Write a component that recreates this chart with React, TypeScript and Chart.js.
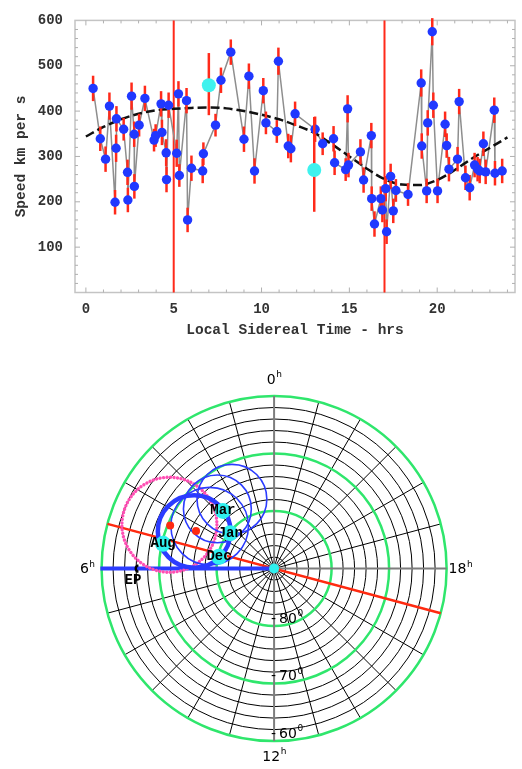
import React, { useEffect, useRef } from "react";
import { Chart, registerables } from "chart.js";
Chart.register(...registerables);

// ---------- top chart data ----------
const pointHours = [0.41,0.82,1.12,1.34,1.66,1.72,1.74,2.15,2.37,2.39,2.60,2.75,2.76,3.03,3.36,3.88,3.97,4.28,4.33,4.57,4.59,4.71,5.17,5.27,5.32,5.73,5.79,6.01,6.65,6.69,7.38,7.69,8.25,9.00,9.28,9.60,10.10,10.25,10.87,10.96,11.52,11.67,11.91,13.05,13.48,14.10,14.16,14.79,14.90,14.95,15.63,15.81,16.25,16.27,16.43,16.79,16.88,17.07,17.12,17.35,17.50,17.65,18.34,19.09,19.12,19.40,19.46,19.72,19.78,20.02,20.45,20.54,20.67,21.16,21.25,21.61,21.85,22.13,22.30,22.42,22.63,22.76,23.25,23.29,23.70];
const pointSpeeds = [450,339,294,411,199,318,383,360,265,204,433,349,234,369,428,336,346,416,353,308,249,413,307,438,258,423,160,274,268,306,369,468,530,338,477,268,445,374,355,510,323,317,394,360,328,339,286,271,405,281,310,248,346,207,151,207,182,229,134,256,180,225,216,462,323,224,374,575,413,224,371,324,272,294,421,253,231,281,272,268,328,266,402,263,268];
const pointErrors = [28,27,28,30,27,30,28,25,28,27,30,28,27,25,28,25,25,28,28,30,28,28,30,28,25,28,27,28,27,25,25,28,28,28,28,28,28,25,25,30,27,30,27,28,25,28,27,25,30,27,28,28,28,27,28,27,27,28,27,28,27,25,25,30,28,27,28,30,28,27,28,27,27,27,28,27,28,27,27,27,27,27,28,27,27];
const cyanHours = [7.0, 13.0];
const cyanSpeeds = [457, 270];
const cyanErrUp = [71, 117];
const cyanErrDown = [66, 92];
const fitHours = [0,1,2,3,4,5,6,7,8,9,10,11,12,13,14,15,16,17,18,19,20,21,22,23,24];
const fitSpeeds = [344,365,382,394,402,405,407,408,406,400,392,382,368,352,327,300,273,250,238,237,248,270,296,319,342];
const markerHours = [5, 17];
const xTickLabels = [0, 5, 10, 15, 20];
const yTickLabels = [100, 200, 300, 400, 500, 600];

// ---------- polar chart data (degrees from south pole, x left negative) ----------
const monthNames = ["Mar", "Jan", "Aug", "Dec"];
const monthX = [-8.9, -7.62, -19.3, -9.57];
const monthY = [10.1, 6.19, 4.33, 2.07];
const poleX = [0];
const poleY = [0];
const redDotX = [-18.07, -13.57];
const redDotY = [7.53, 6.57];
const thinOrbitX = [-7.33, -9.86, -11.2];
const thinOrbitY = [12.14, 10.45, 7.42];
const thinOrbitR = [6.07, 5.9, 6.74];
const thickOrbitX = [-13.9];
const thickOrbitY = [6.49];
const thickOrbitR = [6.32];
const pinkX = [-18.2];
const pinkY = [7.67];
const pinkR = [8.26];
const blackRings = [2, 4, 6, 8, 12, 14, 16, 18, 22, 24, 26, 28];
const greenRings = [10, 20, 30];
const ringLabels = ["80", "70", "60"];
const hourLines = [1,2,3,4,5,7,8,9,10,11,13,14,15,16,17,19,20,21,22,23];
const hourLabels = ["0", "6", "12", "18"];
const epX = -23.5;
const epY = 0;

const mono = "'Liberation Mono', 'DejaVu Sans Mono', monospace";
const sans = "'DejaVu Sans', sans-serif";

const topPlugin = {
  id: "topDeco",
  beforeDatasetsDraw(chart: any) {
    const { ctx, chartArea: a, scales } = chart;
    const x = scales.x, y = scales.y;
    ctx.save();
    ctx.strokeStyle = "#c4c4c4";
    ctx.lineWidth = 1.5;
    ctx.strokeRect(a.left, a.top, a.right - a.left, a.bottom - a.top);
    ctx.lineWidth = 1;
    ctx.strokeStyle = "#b0b0b0";
    for (let h = 0; h <= 24; h++) {
      const px = x.getPixelForValue(h);
      const len = h % 5 === 0 ? 5 : 3;
      ctx.beginPath();
      ctx.moveTo(px, a.bottom); ctx.lineTo(px, a.bottom - len);
      ctx.moveTo(px, a.top); ctx.lineTo(px, a.top + len);
      ctx.stroke();
    }
    for (let v = 20; v < 600; v += 20) {
      const py = y.getPixelForValue(v);
      const len = v % 100 === 0 ? 5 : 3;
      ctx.beginPath();
      ctx.moveTo(a.left, py); ctx.lineTo(a.left + len, py);
      ctx.moveTo(a.right, py); ctx.lineTo(a.right - len, py);
      ctx.stroke();
    }
    ctx.strokeStyle = "#ff2a1a";
    ctx.lineWidth = 2;
    markerHours.forEach((h) => {
      const px = x.getPixelForValue(h);
      ctx.beginPath(); ctx.moveTo(px, a.top); ctx.lineTo(px, a.bottom); ctx.stroke();
    });
    ctx.restore();
  },
  beforeDatasetDraw(chart: any, args: any) {
    const ds = chart.data.datasets[args.index];
    const { ctx, scales } = chart;
    const x = scales.x, y = scales.y;
    const drawBars = (hs: number[], vs: number[], up: number[], dn: number[]) => {
      ctx.save();
      ctx.strokeStyle = "#ff2a1a";
      ctx.lineWidth = 2.5;
      hs.forEach((h, i) => {
        const px = x.getPixelForValue(h);
        ctx.beginPath();
        ctx.moveTo(px, y.getPixelForValue(vs[i] + up[i]));
        ctx.lineTo(px, y.getPixelForValue(vs[i] - dn[i]));
        ctx.stroke();
      });
      ctx.restore();
    };
    if (ds.label === "speed") drawBars(pointHours, pointSpeeds, pointErrors, pointErrors);
    if (ds.label === "cyan") drawBars(cyanHours, cyanSpeeds, cyanErrUp, cyanErrDown);
  },
};

const polarPlugin = {
  id: "polarDeco",
  beforeDatasetsDraw(chart: any) {
    const { ctx, scales } = chart;
    const x = scales.x, y = scales.y;
    const cx = x.getPixelForValue(0), cy = y.getPixelForValue(0);
    const k = x.getPixelForValue(1) - cx;
    const P = (r: number, h: number) => {
      const t = (h * Math.PI) / 12;
      return [cx - r * k * Math.sin(t), cy - r * k * Math.cos(t)];
    };
    const line = (p: number[], q: number[]) => {
      ctx.beginPath(); ctx.moveTo(p[0], p[1]); ctx.lineTo(q[0], q[1]); ctx.stroke();
    };
    const circ = (ux: number, uy: number, r: number) => {
      ctx.beginPath();
      ctx.arc(x.getPixelForValue(ux), y.getPixelForValue(uy), r * k, 0, Math.PI * 2);
      ctx.stroke();
    };
    const outer = greenRings[greenRings.length - 1];
    ctx.save();
    ctx.strokeStyle = "#000";
    ctx.lineWidth = 1;
    blackRings.forEach((r) => circ(0, 0, r));
    hourLines.forEach((h) => line([cx, cy], P(outer, h)));
    ctx.strokeStyle = "#2fe66c";
    ctx.lineWidth = 2.5;
    greenRings.forEach((r) => circ(0, 0, r));
    ctx.strokeStyle = "#7d7d7d";
    ctx.lineWidth = 2;
    line(P(outer, 0), P(outer, 12));
    line([cx, cy], P(outer, 18));
    ctx.strokeStyle = "#ff2a10";
    ctx.lineWidth = 2.5;
    line(P(outer, markerHours[0]), P(outer, markerHours[1]));
    ctx.strokeStyle = "#2b3cff";
    ctx.lineWidth = 4;
    line(P(outer + 0.2, 6), [cx, cy]);
    // pink dotted circle
    ctx.strokeStyle = "#ff4fb4";
    ctx.lineWidth = 3.4;
    ctx.lineCap = "round";
    ctx.setLineDash([0.01, 3.5]);
    pinkX.forEach((px, i) => circ(px, pinkY[i], pinkR[i]));
    ctx.setLineDash([]);
    ctx.lineCap = "butt";
    ctx.strokeStyle = "#2b3cff";
    ctx.lineWidth = 1.6;
    thinOrbitX.forEach((ox, i) => circ(ox, thinOrbitY[i], thinOrbitR[i]));
    ctx.lineWidth = 4.5;
    thickOrbitX.forEach((ox, i) => circ(ox, thickOrbitY[i], thickOrbitR[i]));
    // EP mark
    ctx.strokeStyle = "#000";
    ctx.lineWidth = 2.5;
    ctx.beginPath();
    ctx.arc(x.getPixelForValue(epX), y.getPixelForValue(epY), 3.2, Math.PI * 0.55, Math.PI * 1.45);
    ctx.stroke();
    ctx.restore();
  },
  afterDatasetsDraw(chart: any) {
    const { ctx, scales } = chart;
    const x = scales.x, y = scales.y;
    const cx = x.getPixelForValue(0), cy = y.getPixelForValue(0);
    const k = x.getPixelForValue(1) - cx;
    ctx.save();
    ctx.fillStyle = "#000";
    ctx.textBaseline = "middle";
    ctx.textAlign = "center";
    ctx.font = `bold 14px ${mono}`;
    monthNames.forEach((m, i) => {
      ctx.fillText(m, x.getPixelForValue(monthX[i]), y.getPixelForValue(monthY[i]));
    });
    ctx.fillText("EP", x.getPixelForValue(epX) - 6, y.getPixelForValue(epY) + 12);
    const sup = (base: string, s: string, bx: number, by: number, align: string) => {
      ctx.font = `14px ${sans}`;
      const w = ctx.measureText(base).width;
      ctx.font = `9px ${sans}`;
      const ws = ctx.measureText(s).width;
      let left = bx - (w + ws) / 2;
      if (align === "right") left = bx - (w + ws);
      if (align === "left") left = bx;
      ctx.textAlign = "left";
      ctx.font = `14px ${sans}`;
      ctx.fillText(base, left, by);
      ctx.font = `9px ${sans}`;
      ctx.fillText(s, left + w + 0.5, by - 5);
    };
    const R = greenRings[greenRings.length - 1] * k;
    sup(hourLabels[0], "h", cx, cy - R - 16, "center");
    sup(hourLabels[1], "h", cx - R - 7, cy + 1, "right");
    sup(hourLabels[2], "h", cx, cy + R + 16, "center");
    sup(hourLabels[3], "h", cx + R + 2, cy + 1, "left");
    greenRings.forEach((r, i) => {
      const py = cy + r * k - 7;
      ctx.textAlign = "left";
      ctx.font = `14px ${sans}`;
      ctx.fillText("-", cx - 3, py);
      sup(ringLabels[i], "0", cx + 5, py, "left");
    });
    ctx.restore();
  },
};

export default function App() {
  const topRef = useRef<HTMLCanvasElement>(null);
  const botRef = useRef<HTMLCanvasElement>(null);

  useEffect(() => {
    const pts = pointHours.map((h, i) => ({ x: h, y: pointSpeeds[i] }));
    const top = new Chart(topRef.current as HTMLCanvasElement, {
      type: "scatter",
      data: {
        datasets: [
          {
            label: "cyan",
            data: cyanHours.map((h, i) => ({ x: h, y: cyanSpeeds[i] })),
            backgroundColor: "#3ff2ee",
            borderWidth: 0,
            pointRadius: 7,
            order: 1,
          } as any,
          {
            label: "speed",
            data: pts,
            backgroundColor: "#2038ff",
            borderWidth: 0,
            pointRadius: 4.7,
            order: 2,
          },
          {
            label: "fit",
            type: "line",
            data: fitHours.map((h, i) => ({ x: h, y: fitSpeeds[i] })),
            borderColor: "#111",
            borderWidth: 2.5,
            borderDash: [9, 4],
            pointRadius: 0,
            cubicInterpolationMode: "monotone",
            fill: false,
            order: 3,
          },
          {
            label: "link",
            type: "line",
            data: pts,
            borderColor: "#8e8e8e",
            borderWidth: 1.5,
            pointRadius: 0,
            fill: false,
            order: 4,
          },
        ],
      },
      options: {
        responsive: false,
        animation: false,
        events: [],
        layout: { padding: { top: 15, right: 0, left: 0, bottom: 0 } },
        plugins: { legend: { display: false }, tooltip: { enabled: false } },
        scales: {
          x: {
            type: "linear",
            min: -0.62,
            max: 24.43,
            grid: { display: false, drawTicks: false },
            border: { display: false },
            afterBuildTicks: (axis: any) => {
              axis.ticks = xTickLabels.map((v) => ({ value: v }));
            },
            afterFit: (s: any) => { s.height = 52.5; },
            ticks: { padding: 9, color: "#333", font: { family: mono, size: 14, weight: "bold" }, maxRotation: 0 },
            title: {
              display: true,
              text: "Local Sidereal Time - hrs",
              color: "#333",
              font: { family: mono, size: 14.5, weight: "bold" },
              padding: { top: 0, bottom: 6 },
            },
          },
          y: {
            type: "linear",
            min: 0,
            max: 600,
            grid: { display: false, drawTicks: false },
            border: { display: false },
            afterBuildTicks: (axis: any) => {
              axis.ticks = yTickLabels.map((v) => ({ value: v }));
            },
            afterFit: (s: any) => { s.width = 75; },
            ticks: { padding: 12, color: "#333", font: { family: mono, size: 14, weight: "bold" } },
            title: {
              display: true,
              text: "Speed km per s",
              color: "#333",
              font: { family: mono, size: 14.5, weight: "bold" },
              padding: { top: 13, bottom: 0 },
            },
          },
        },
      } as any,
      plugins: [topPlugin],
    });

    const k = 5.933;
    const bot = new Chart(botRef.current as HTMLCanvasElement, {
      type: "scatter",
      data: {
        datasets: [
          {
            label: "pole",
            data: poleX.map((v, i) => ({ x: v, y: poleY[i] })),
            backgroundColor: "#2ff0ee",
            pointBackgroundColor: "#2ff0ee",
            borderWidth: 0,
            pointRadius: 5,
            clip: false,
            order: 1,
          } as any,
          {
            label: "months",
            data: monthX.map((v, i) => ({ x: v, y: monthY[i] })),
            backgroundColor: "#2ff0ee",
            pointBackgroundColor: "#2ff0ee",
            borderWidth: 0,
            pointRadius: 8,
            clip: false,
            order: 1,
          },
          {
            label: "centres",
            data: redDotX.map((v, i) => ({ x: v, y: redDotY[i] })),
            backgroundColor: "#ff2a10",
            pointBackgroundColor: "#ff2a10",
            borderWidth: 0,
            pointRadius: 4,
            clip: false,
            order: 2,
          },
        ],
      },
      options: {
        responsive: false,
        animation: false,
        events: [],
        layout: { padding: 0 },
        plugins: { legend: { display: false }, tooltip: { enabled: false } },
        scales: {
          x: { type: "linear", display: false, min: -274.5 / k, max: 247.5 / k },
          y: { type: "linear", display: false, min: -200 / k, max: 224 / k },
        },
      } as any,
      plugins: [polarPlugin],
    });

    return () => {
      top.destroy();
      bot.destroy();
    };
  }, []);

  return (
    <div style={{ position: "absolute", left: 0, top: 0, width: 522, height: 769, background: "#fff" }}>
      <canvas ref={topRef} width={522} height={345} style={{ position: "absolute", left: 0, top: 0, width: 522, height: 345 }} />
      <canvas ref={botRef} width={522} height={424} style={{ position: "absolute", left: 0, top: 345, width: 522, height: 424 }} />
    </div>
  );
}
